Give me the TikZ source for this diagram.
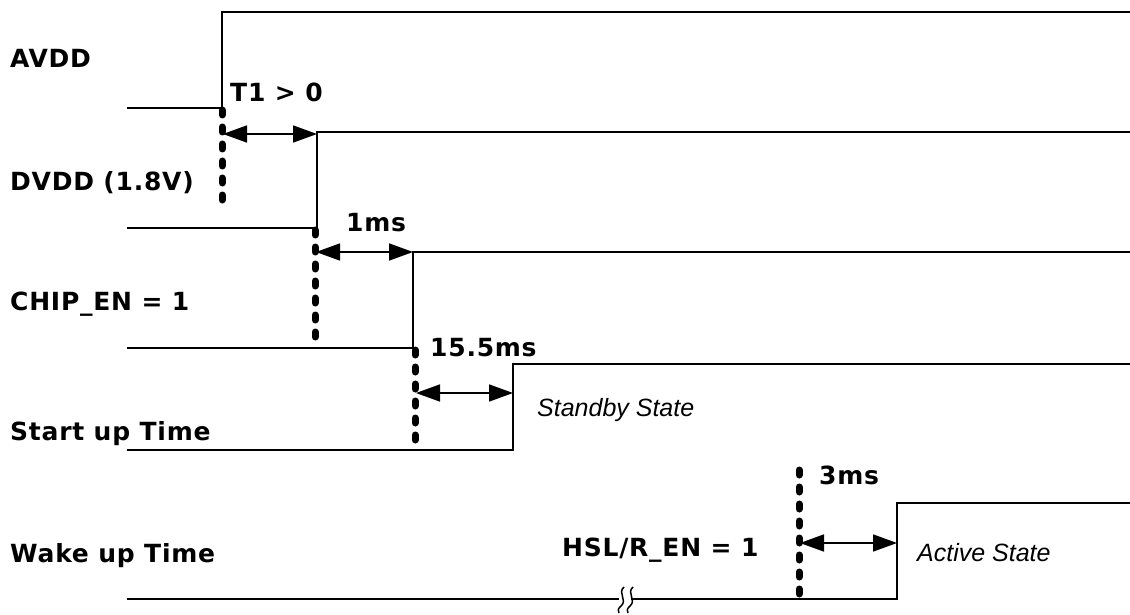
\documentclass[tikz,border=0pt]{standalone}
\usepackage{fontspec}
\setmainfont{DejaVu Sans}
\newfontfamily\lblfont[LetterSpace=3]{DejaVu Sans}
\newfontfamily\statefont{Liberation Sans}
\usetikzlibrary{arrows.meta}
\begin{document}
\begin{tikzpicture}[x=1pt,y=-1pt,
  sig/.style={line width=1.8pt},
  dots/.style={line width=7pt,line cap=round,dash pattern=on 5pt off 12pt},
  dim/.style={line width=1.6pt,{Triangle[length=24pt,width=17pt]}-{Triangle[length=24pt,width=17pt]},shorten <=1pt},
  lbl/.style={anchor=base west,inner sep=0pt,font=\fontsize{25}{29}\lblfont\bfseries},
  st/.style={anchor=base west,inner sep=0pt,font=\fontsize{25}{29}\statefont\itshape}]
\useasboundingbox (0,0) rectangle (1130,615);
% labels
\node[lbl] (lavdd) at (10,68) {AVDD};
\node[lbl] (ldvdd) at (10,190) {DVDD (1.8V)};
\node[lbl] (lchip) at (10,310) {CHIP\_EN = 1};
\node[lbl] (lstart) at (10,440) {Start up Time};
\node[lbl] (lwake) at (10,562) {Wake up Time};
% signals
\draw[sig] (127,108) -- (222,108) -- (222,12) -- (1130,12);
\draw[sig] (127,228) -- (317,228) -- (317,132) -- (1130,132);
\draw[sig] (127,348) -- (413,348) -- (413,252) -- (1130,252);
\draw[sig] (127,450) -- (513,450) -- (513,364) -- (1130,364);
\draw[sig] (127,599) -- (619,599);
\draw[sig] (631,599) -- (897,599) -- (897,503) -- (1130,503);
% break mark
\draw[line width=1.5pt] (624,587) .. controls (617,593) and (628,600) .. (621,606) .. controls (618,609) .. (619,613);
\draw[line width=1.5pt] (633,587) .. controls (626,593) and (637,600) .. (630,606) .. controls (627,609) .. (628,613);
% dotted markers
\coordinate (d1t) at (222,110); \coordinate (d1b) at (222,202);
\coordinate (d2t) at (315,230); \coordinate (d2b) at (315,342);
\coordinate (d3t) at (415,350); \coordinate (d3b) at (415,446);
\coordinate (d4t) at (799,470); \coordinate (d4b) at (799,599);
\draw[dots] (d1t) -- (d1b);
\draw[dots] (d2t) -- (d2b);
\draw[dots] (d3t) -- (d3b);
\draw[dots] (d4t) -- (d4b);
% dimension arrows
\coordinate (a1s) at (222,134); \coordinate (a1e) at (317,134);
\coordinate (a2s) at (315,252); \coordinate (a2e) at (413,252);
\coordinate (a3s) at (415,393); \coordinate (a3e) at (513,393);
\coordinate (a4s) at (799,543); \coordinate (a4e) at (897,543);
\draw[dim] (a1s) -- (a1e);
\draw[dim] (a2s) -- (a2e);
\draw[dim] (a3s) -- (a3e);
\draw[dim] (a4s) -- (a4e);
% timing labels
\node[lbl] (t1) at (230,102) {T1 > 0};
\node[lbl] (t2) at (346,231) {1ms};
\node[lbl] (t3) at (430,356) {15.5ms};
\node[lbl] (t4) at (819,484) {3ms};
\node[lbl] (hsl) at (562,556) {HSL/R\_EN = 1};
\node[st] (standby) at (537,416) {Standby State};
\node[st] (active) at (917,561) {Active State};
\end{tikzpicture}
\end{document}
